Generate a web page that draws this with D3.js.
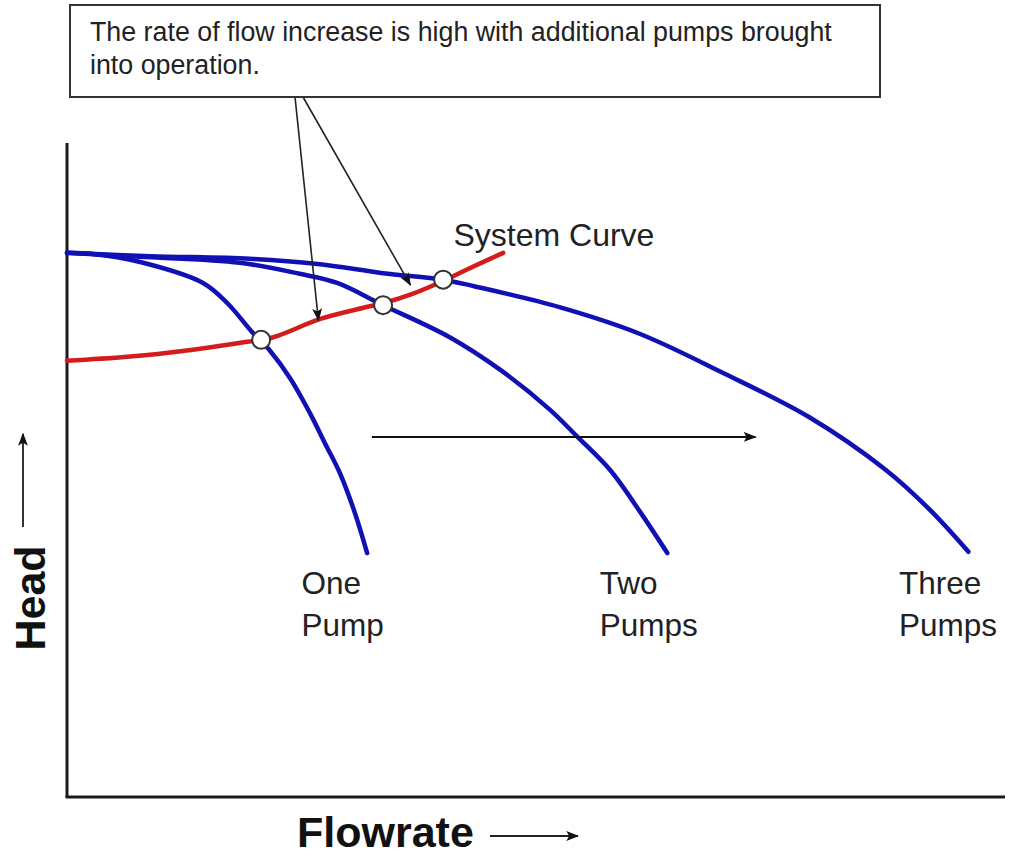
<!DOCTYPE html>
<html>
<head>
<meta charset="utf-8">
<script src="https://cdn.jsdelivr.net/npm/d3@7"></script>
<style>
  html, body { margin: 0; padding: 0; background: #fff; }
  svg { display: block; }
  text { font-family: "Liberation Sans", Arial, sans-serif; }
</style>
</head>
<body>
<script>
// ---- Data (flow units 0-100 on x, head units 0-100 on y) ----
const onePumpFlow  = [0, 3.0, 7.8, 14.5, 17.1, 19.8, 21.6, 23.8, 25.9, 27.5, 29.1, 30.7, 32.0];
const onePumpHead  = [83.2, 83.0, 81.8, 78.6, 75.5, 71.0, 68.3, 64.0, 58.7, 54.1, 49.5, 43.4, 37.3];

const twoPumpFlow  = [0, 7.8, 18.4, 24.8, 28.8, 33.7, 40.8, 46.2, 51.5, 54.4, 57.9, 61.1, 64.0];
const twoPumpHead  = [83.2, 82.6, 81.7, 80.0, 78.6, 75.2, 70.3, 65.3, 59.2, 55.1, 50.0, 43.6, 37.3];

const threePumpFlow = [0, 8.9, 19.5, 26.7, 33.7, 40.1, 43.4, 52.5, 61.1, 70.0, 79.1, 87.3, 92.0, 96.1];
const threePumpHead = [83.2, 82.7, 82.3, 81.5, 80.1, 79.1, 78.1, 74.9, 70.8, 64.8, 58.1, 50.0, 43.9, 37.5];

const systemFlow = [0, 6.4, 13.4, 19.2, 22.0, 27.0, 31.6, 33.7, 36.6, 40.1, 43.0, 46.5];
const systemHead = [66.7, 67.3, 68.4, 69.6, 70.3, 73.1, 74.8, 75.5, 76.8, 78.9, 80.9, 83.2];

const opFlow = [20.7, 33.7, 40.1];
const opHead = [69.9, 75.2, 79.1];

const pumpLabels = [["One", "Pump"], ["Two", "Pumps"], ["Three", "Pumps"]];
const pumpLabelFlow = [25.0, 56.8, 88.7];
const pumpLabelHead = [31.0, 24.6];   // first and second line baselines

const noteLines = ["The rate of flow increase is high with additional pumps brought", "into operation."];
const noteTipFlow = [26.8, 36.6];
const noteTipHead = [72.9, 78.3];
const noteStartX = [295, 303];

const shiftArrowFlow = [32.5, 73.4];
const shiftArrowHead = 55.05;

const systemLabel = "System Curve";
const systemLabelFlow = 41.2;
const systemLabelHead = 84.3;

const xTitle = "Flowrate";
const yTitle = "Head";

// ---- Layout ----
const W = 1010, H = 857;
const x = d3.scaleLinear().domain([0, 100]).range([67, 1005]);
const y = d3.scaleLinear().domain([0, 100]).range([797, 143]);

const svg = d3.select("body").append("svg").attr("width", W).attr("height", H);

const defs = svg.append("defs");
defs.append("marker").attr("id", "ah").attr("viewBox", "0 0 10 10")
  .attr("refX", 9).attr("refY", 5).attr("markerWidth", 13).attr("markerHeight", 13)
  .attr("markerUnits", "userSpaceOnUse").attr("orient", "auto")
  .append("path").attr("d", "M0,1.2 L10,5 L0,8.8 L2.2,5 Z").attr("fill", "#111");

// axes
const axisColor = "#1a1a1a";
svg.append("line").attr("x1", x(0)).attr("x2", x(0)).attr("y1", y(100)).attr("y2", y(0))
  .attr("stroke", axisColor).attr("stroke-width", 3);
svg.append("line").attr("x1", x(0) - 1.5).attr("x2", x(100)).attr("y1", y(0)).attr("y2", y(0))
  .attr("stroke", axisColor).attr("stroke-width", 3);

const line = d3.line().x(d => x(d[0])).y(d => y(d[1])).curve(d3.curveCatmullRom.alpha(0.5));
const zip = (a, b) => a.map((v, i) => [v, b[i]]);

const blue = "#1010b4", red = "#d41c1c";
[[onePumpFlow, onePumpHead], [twoPumpFlow, twoPumpHead], [threePumpFlow, threePumpHead]].forEach(([f, h]) => {
  svg.append("path").attr("d", line(zip(f, h))).attr("fill", "none")
    .attr("stroke", blue).attr("stroke-width", 4.5).attr("stroke-linejoin", "round").attr("stroke-linecap", "round");
});
svg.append("path").attr("d", line(zip(systemFlow, systemHead))).attr("fill", "none")
  .attr("stroke", red).attr("stroke-width", 4.5).attr("stroke-linejoin", "round").attr("stroke-linecap", "round");

// annotation arrows (drawn before circles)
noteTipFlow.forEach((f, i) => {
  svg.append("line").attr("x1", noteStartX[i]).attr("y1", 97)
    .attr("x2", x(f)).attr("y2", y(noteTipHead[i]))
    .attr("stroke", "#222").attr("stroke-width", 1.6).attr("marker-end", "url(#ah)");
});

// operating points
svg.selectAll("circle.op").data(zip(opFlow, opHead)).join("circle")
  .attr("class", "op").attr("cx", d => x(d[0])).attr("cy", d => y(d[1])).attr("r", 9)
  .attr("fill", "#fff").attr("stroke", "#333").attr("stroke-width", 2);

// shift arrow
svg.append("line").attr("x1", x(shiftArrowFlow[0])).attr("x2", x(shiftArrowFlow[1]))
  .attr("y1", y(shiftArrowHead)).attr("y2", y(shiftArrowHead))
  .attr("stroke", "#111").attr("stroke-width", 2).attr("marker-end", "url(#ah)");

// note box
svg.append("rect").attr("x", 70).attr("y", 5).attr("width", 810).attr("height", 92)
  .attr("fill", "#fff").attr("stroke", "#333").attr("stroke-width", 2);
noteLines.forEach((t, i) => {
  svg.append("text").attr("x", 90).attr("y", 41 + i * 33).attr("font-size", 26.8)
    .attr("fill", "#222").text(t);
});

// pump labels
pumpLabels.forEach((lines, i) => {
  lines.forEach((t, j) => {
    svg.append("text").attr("x", x(pumpLabelFlow[i])).attr("y", y(pumpLabelHead[j]))
      .attr("font-size", 31.5).attr("fill", "#222").text(t);
  });
});

// system curve label
svg.append("text").attr("x", x(systemLabelFlow)).attr("y", y(systemLabelHead))
  .attr("font-size", 32).attr("fill", "#222").text(systemLabel);

// axis titles
svg.append("text").attr("x", 297).attr("y", 847).attr("font-size", 43).attr("font-weight", "bold")
  .attr("fill", "#111").text(xTitle);
svg.append("line").attr("x1", 490).attr("x2", 578).attr("y1", 836).attr("y2", 836)
  .attr("stroke", "#222").attr("stroke-width", 2).attr("marker-end", "url(#ah)");

svg.append("text").attr("transform", "translate(45,598) rotate(-90)").attr("text-anchor", "middle")
  .attr("font-size", 43).attr("font-weight", "bold").attr("fill", "#111").text(yTitle);
svg.append("line").attr("x1", 23).attr("x2", 23).attr("y1", 527).attr("y2", 434)
  .attr("stroke", "#333").attr("stroke-width", 2).attr("marker-end", "url(#ah)");
</script>
</body>
</html>
